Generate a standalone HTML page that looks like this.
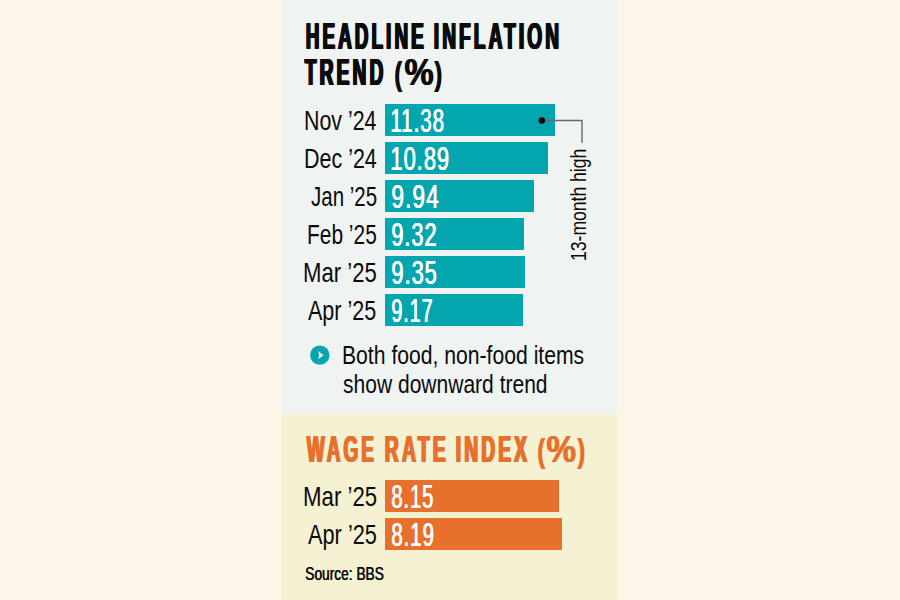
<!DOCTYPE html>
<html><head><meta charset="utf-8">
<style>
html,body{margin:0;padding:0;}
body{width:900px;height:600px;background:#FEF5E9;position:relative;overflow:hidden;font-family:"Liberation Sans",sans-serif;}
.p{position:absolute;}
.t{position:absolute;white-space:nowrap;line-height:1;transform-origin:0 0;}
</style></head><body>
<div class="p" style="left:282px;top:0;width:335px;height:414px;background:#EFF4F2"></div>
<div class="p" style="left:282px;top:414px;width:335px;height:186px;background:#F5F1D3"></div>
<div class="t" style="left:304.57px;top:18.0px;transform:scaleX(0.5103);font-size:37px;font-weight:bold;color:#0b0b0b;letter-spacing:6px;text-shadow:1px 0 0 #0b0b0b,2px 0 0 #0b0b0b,3px 0 0 #0b0b0b">HEADLINE</div>
<div class="t" style="left:433.45px;top:18.0px;transform:scaleX(0.5164);font-size:37px;font-weight:bold;color:#0b0b0b;letter-spacing:6px;text-shadow:1px 0 0 #0b0b0b,2px 0 0 #0b0b0b,3px 0 0 #0b0b0b">INFLATION</div>
<div class="t" style="left:303.99px;top:54.4px;transform:scaleX(0.519);font-size:37px;font-weight:bold;color:#0b0b0b;letter-spacing:6px;text-shadow:1px 0 0 #0b0b0b,2px 0 0 #0b0b0b,3px 0 0 #0b0b0b">TREND</div>
<div class="t" style="left:394.0px;top:55.9px;transform:scaleX(0.68);font-size:34px;font-weight:bold;color:#0b0b0b;text-shadow:1px 0 0 #0b0b0b">(</div>
<div class="t" style="left:403.66px;top:54.4px;transform:scaleX(0.8859);font-size:37px;font-weight:bold;color:#0b0b0b;text-shadow:1px 0 0 #0b0b0b">%</div>
<div class="t" style="left:434.1px;top:55.9px;transform:scaleX(0.69);font-size:34px;font-weight:bold;color:#0b0b0b;text-shadow:1px 0 0 #0b0b0b">)</div>
<div class="p" style="left:385px;top:104px;width:170.3px;height:32px;background:#03A5AE"></div>
<div class="p" style="left:385px;top:142px;width:163px;height:32px;background:#03A5AE"></div>
<div class="p" style="left:385px;top:180px;width:148.8px;height:32px;background:#03A5AE"></div>
<div class="p" style="left:385px;top:218px;width:139.4px;height:32px;background:#03A5AE"></div>
<div class="p" style="left:385px;top:256px;width:140px;height:32px;background:#03A5AE"></div>
<div class="p" style="left:385px;top:294px;width:137.5px;height:32px;background:#03A5AE"></div>
<div class="t" style="left:303.95px;top:105.7px;transform:scaleX(0.75);font-size:28.5px;color:#0b0b0b;">Nov ’24</div>
<div class="t" style="left:303.64px;top:143.7px;transform:scaleX(0.7532);font-size:28.5px;color:#0b0b0b;">Dec ’24</div>
<div class="t" style="left:310.52px;top:181.7px;transform:scaleX(0.7189);font-size:28.5px;color:#0b0b0b;">Jan ’25</div>
<div class="t" style="left:306.69px;top:219.7px;transform:scaleX(0.7342);font-size:28.5px;color:#0b0b0b;">Feb ’25</div>
<div class="t" style="left:302.99px;top:257.7px;transform:scaleX(0.7763);font-size:28.5px;color:#0b0b0b;">Mar ’25</div>
<div class="t" style="left:308.4px;top:295.7px;transform:scaleX(0.7562);font-size:28.5px;color:#0b0b0b;">Apr ’25</div>
<div class="t" style="left:389.64px;top:103.7px;transform:scaleX(0.6234);font-size:33px;color:#fff;letter-spacing:1.5px;text-shadow:1.2px 0 0 #fff">11.38</div>
<div class="t" style="left:389.54px;top:141.7px;transform:scaleX(0.6627);font-size:33px;color:#fff;letter-spacing:1.5px;text-shadow:1.2px 0 0 #fff">10.89</div>
<div class="t" style="left:390.52px;top:179.7px;transform:scaleX(0.6889);font-size:33px;color:#fff;letter-spacing:1.5px;text-shadow:1.2px 0 0 #fff">9.94</div>
<div class="t" style="left:390.56px;top:217.7px;transform:scaleX(0.6573);font-size:33px;color:#fff;letter-spacing:1.5px;text-shadow:1.2px 0 0 #fff">9.32</div>
<div class="t" style="left:390.56px;top:255.7px;transform:scaleX(0.6613);font-size:33px;color:#fff;letter-spacing:1.5px;text-shadow:1.2px 0 0 #fff">9.35</div>
<div class="t" style="left:390.64px;top:293.7px;transform:scaleX(0.5989);font-size:33px;color:#fff;letter-spacing:1.5px;text-shadow:1.2px 0 0 #fff">9.17</div>
<svg class="p" style="left:0;top:0" width="900" height="600">
<polyline points="542,120.5 582,120.5 582,142.7" fill="none" stroke="#6a6a6a" stroke-width="1.4"/>
<circle cx="541.8" cy="120.5" r="3.2" fill="#050505"/>
<circle cx="319.8" cy="355.1" r="9.7" fill="#03A5AE"/>
<path d="M317.9,350.8 L323.7,355.2 L317.9,359.6 Q320.1,355.2 317.9,350.8 Z" fill="#FBE6DE"/>
</svg>
<div class="t" style="left:568.4px;top:261.0px;font-size:22px;color:#0b0b0b;transform:rotate(-90deg) scaleX(0.7982)">13-month high</div>
<div class="t" style="left:341.82px;top:341.8px;transform:scaleX(0.8134);font-size:26px;color:#0b0b0b;">Both food, non-food items</div>
<div class="t" style="left:343.09px;top:371.3px;transform:scaleX(0.8088);font-size:26px;color:#0b0b0b;">show downward trend</div>
<div class="t" style="left:306.3px;top:430.8px;transform:scaleX(0.5118);font-size:37px;font-weight:bold;color:#E8702D;letter-spacing:6px;text-shadow:1px 0 0 #E8702D,2px 0 0 #E8702D,3px 0 0 #E8702D">WAGE</div>
<div class="t" style="left:383.73px;top:430.8px;transform:scaleX(0.5247);font-size:37px;font-weight:bold;color:#E8702D;letter-spacing:6px;text-shadow:1px 0 0 #E8702D,2px 0 0 #E8702D,3px 0 0 #E8702D">RATE</div>
<div class="t" style="left:455.04px;top:430.8px;transform:scaleX(0.5193);font-size:37px;font-weight:bold;color:#E8702D;letter-spacing:6px;text-shadow:1px 0 0 #E8702D,2px 0 0 #E8702D,3px 0 0 #E8702D">INDEX</div>
<div class="t" style="left:536.9px;top:432.6px;transform:scaleX(0.68);font-size:34px;font-weight:bold;color:#E8702D;text-shadow:1px 0 0 #E8702D">(</div>
<div class="t" style="left:546.35px;top:430.8px;transform:scaleX(0.8984);font-size:37px;font-weight:bold;color:#E8702D;text-shadow:1px 0 0 #E8702D">%</div>
<div class="t" style="left:577.2px;top:432.6px;transform:scaleX(0.69);font-size:34px;font-weight:bold;color:#E8702D;text-shadow:1px 0 0 #E8702D">)</div>
<div class="p" style="left:385px;top:480px;width:174.2px;height:32px;background:#E8702D"></div>
<div class="p" style="left:385px;top:518px;width:177.1px;height:32px;background:#E8702D"></div>
<div class="t" style="left:302.78px;top:481.9px;transform:scaleX(0.7807);font-size:28.5px;color:#0b0b0b;">Mar ’25</div>
<div class="t" style="left:308.0px;top:520.2px;transform:scaleX(0.7629);font-size:28.5px;color:#0b0b0b;">Apr ’25</div>
<div class="t" style="left:390.83px;top:480.0px;transform:scaleX(0.6106);font-size:33px;color:#fff;letter-spacing:1.5px;text-shadow:1.2px 0 0 #fff">8.15</div>
<div class="t" style="left:390.82px;top:518.3px;transform:scaleX(0.6184);font-size:33px;color:#fff;letter-spacing:1.5px;text-shadow:1.2px 0 0 #fff">8.19</div>
<div class="t" style="left:304.76px;top:566.0px;transform:scaleX(0.785);font-size:17.5px;color:#0b0b0b;text-shadow:0.6px 0 0 #0b0b0b">Source: BBS</div>
</body></html>
